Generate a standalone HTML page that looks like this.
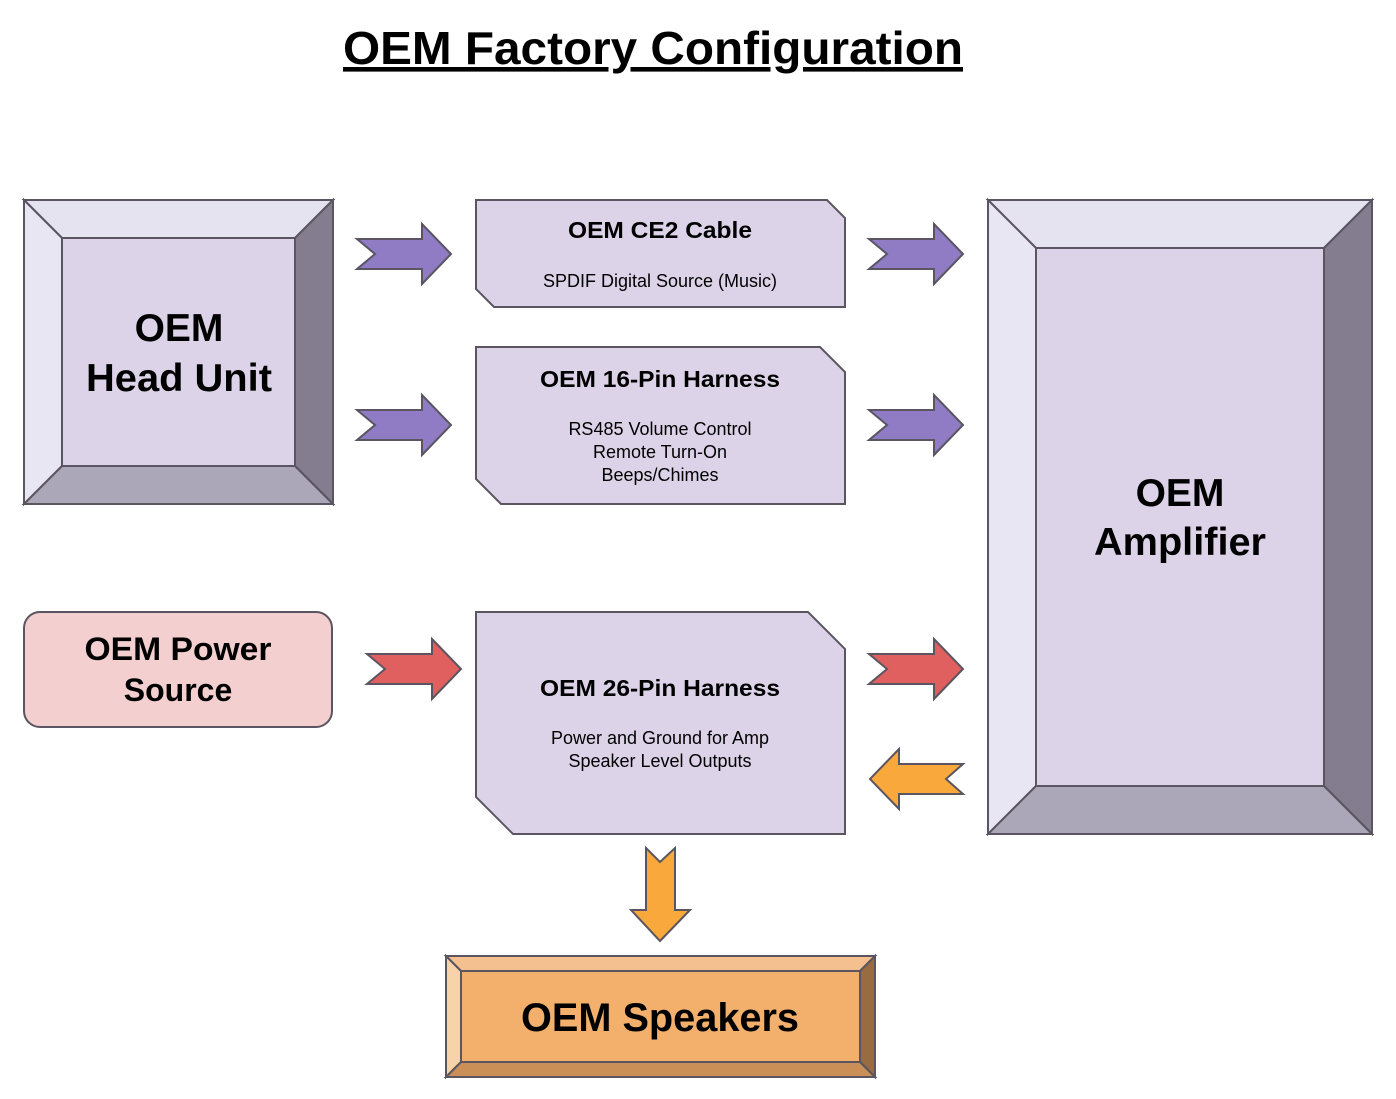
<!DOCTYPE html>
<html><head><style>body{margin:0;background:#fff}svg{display:block}text{font-family:"Liberation Sans",Arial,sans-serif}</style></head><body>
<svg width="1396" height="1099" viewBox="0 0 1396 1099">
<text x="343" y="64" font-size="46" font-weight="bold" text-decoration="underline" textLength="620" lengthAdjust="spacingAndGlyphs">OEM Factory Configuration</text>
<g stroke="#5a5560" stroke-width="2">
<polygon points="24,200 333,200 295,238 62,238" fill="#e6e3f0"/>
<polygon points="24,200 62,238 62,466 24,504" fill="#e9e6f3"/>
<polygon points="333,200 333,504 295,466 295,238" fill="#837d8f"/>
<polygon points="24,504 333,504 295,466 62,466" fill="#aba6b8"/>
<rect x="62" y="238" width="233" height="228" fill="#dcd3e8"/>
<polygon points="988,200 1372,200 1324,248 1036,248" fill="#e6e3f0"/>
<polygon points="988,200 1036,248 1036,786 988,834" fill="#e9e6f3"/>
<polygon points="1372,200 1372,834 1324,786 1324,248" fill="#837d8f"/>
<polygon points="988,834 1372,834 1324,786 1036,786" fill="#aba6b8"/>
<rect x="1036" y="248" width="288" height="538" fill="#dcd3e8"/>
<polygon points="446,956 875,956 860,971 461,971" fill="#f5c08f"/>
<polygon points="446,956 461,971 461,1062 446,1077" fill="#f8d2a8"/>
<polygon points="875,956 875,1077 860,1062 860,971" fill="#9a6a40"/>
<polygon points="446,1077 875,1077 860,1062 461,1062" fill="#c98f56"/>
<rect x="461" y="971" width="399" height="91" fill="#f2b06c"/>
<polygon points="476,200 827,200 845,218 845,307 494,307 476,289" fill="#dcd3e8"/>
<polygon points="476,347 820,347 845,372 845,504 501,504 476,479" fill="#dcd3e8"/>
<polygon points="476,612 808,612 845,649 845,834 513,834 476,797" fill="#dcd3e8"/>
<rect x="24" y="612" width="308" height="115" rx="16" fill="#f3cfd0"/>
<g fill="#8f7cc4">
<polygon points="357,239 422,239 422,224 451,254 422,284 422,269 357,269 375,254"/>
<polygon points="357,410 422,410 422,395 451,425 422,455 422,440 357,440 375,425"/>
<polygon points="869,239 934,239 934,224 963,254 934,284 934,269 869,269 887,254"/>
<polygon points="869,410 934,410 934,395 963,425 934,455 934,440 869,440 887,425"/>
</g>
<g fill="#e06060">
<polygon points="367,654 432,654 432,639 461,669 432,699 432,684 367,684 385,669"/>
<polygon points="869,654 934,654 934,639 963,669 934,699 934,684 869,684 887,669"/>
</g>
<g fill="#f9a93c">
<polygon points="963,764 899,764 899,749 870,779 899,809 899,794 963,794 946,779"/>
<polygon points="646,848 660,862 675,848 675,910 690,910 660,941 631,910 646,910"/>
</g>
</g>
<g font-weight="bold" text-anchor="middle" fill="#000">
<text x="179" y="341" font-size="39">OEM</text>
<text x="179" y="391" font-size="39" textLength="186" lengthAdjust="spacingAndGlyphs">Head Unit</text>
<text x="1180" y="506" font-size="39">OEM</text>
<text x="1180" y="555" font-size="39" textLength="172" lengthAdjust="spacingAndGlyphs">Amplifier</text>
<text x="178" y="660" font-size="32" textLength="187" lengthAdjust="spacingAndGlyphs">OEM Power</text>
<text x="178" y="701" font-size="32">Source</text>
<text x="660" y="1031" font-size="40" textLength="278" lengthAdjust="spacingAndGlyphs">OEM Speakers</text>
<text x="660" y="238" font-size="23" textLength="184" lengthAdjust="spacingAndGlyphs">OEM CE2 Cable</text>
<text x="660" y="387" font-size="23" textLength="240" lengthAdjust="spacingAndGlyphs">OEM 16-Pin Harness</text>
<text x="660" y="696" font-size="23" textLength="240" lengthAdjust="spacingAndGlyphs">OEM 26-Pin Harness</text>
</g>
<g text-anchor="middle" font-size="18" fill="#000">
<text x="660" y="287">SPDIF Digital Source (Music)</text>
<text x="660" y="435">RS485 Volume Control</text>
<text x="660" y="458">Remote Turn-On</text>
<text x="660" y="481">Beeps/Chimes</text>
<text x="660" y="744">Power and Ground for Amp</text>
<text x="660" y="767">Speaker Level Outputs</text>
</g>
</svg>
</body></html>
